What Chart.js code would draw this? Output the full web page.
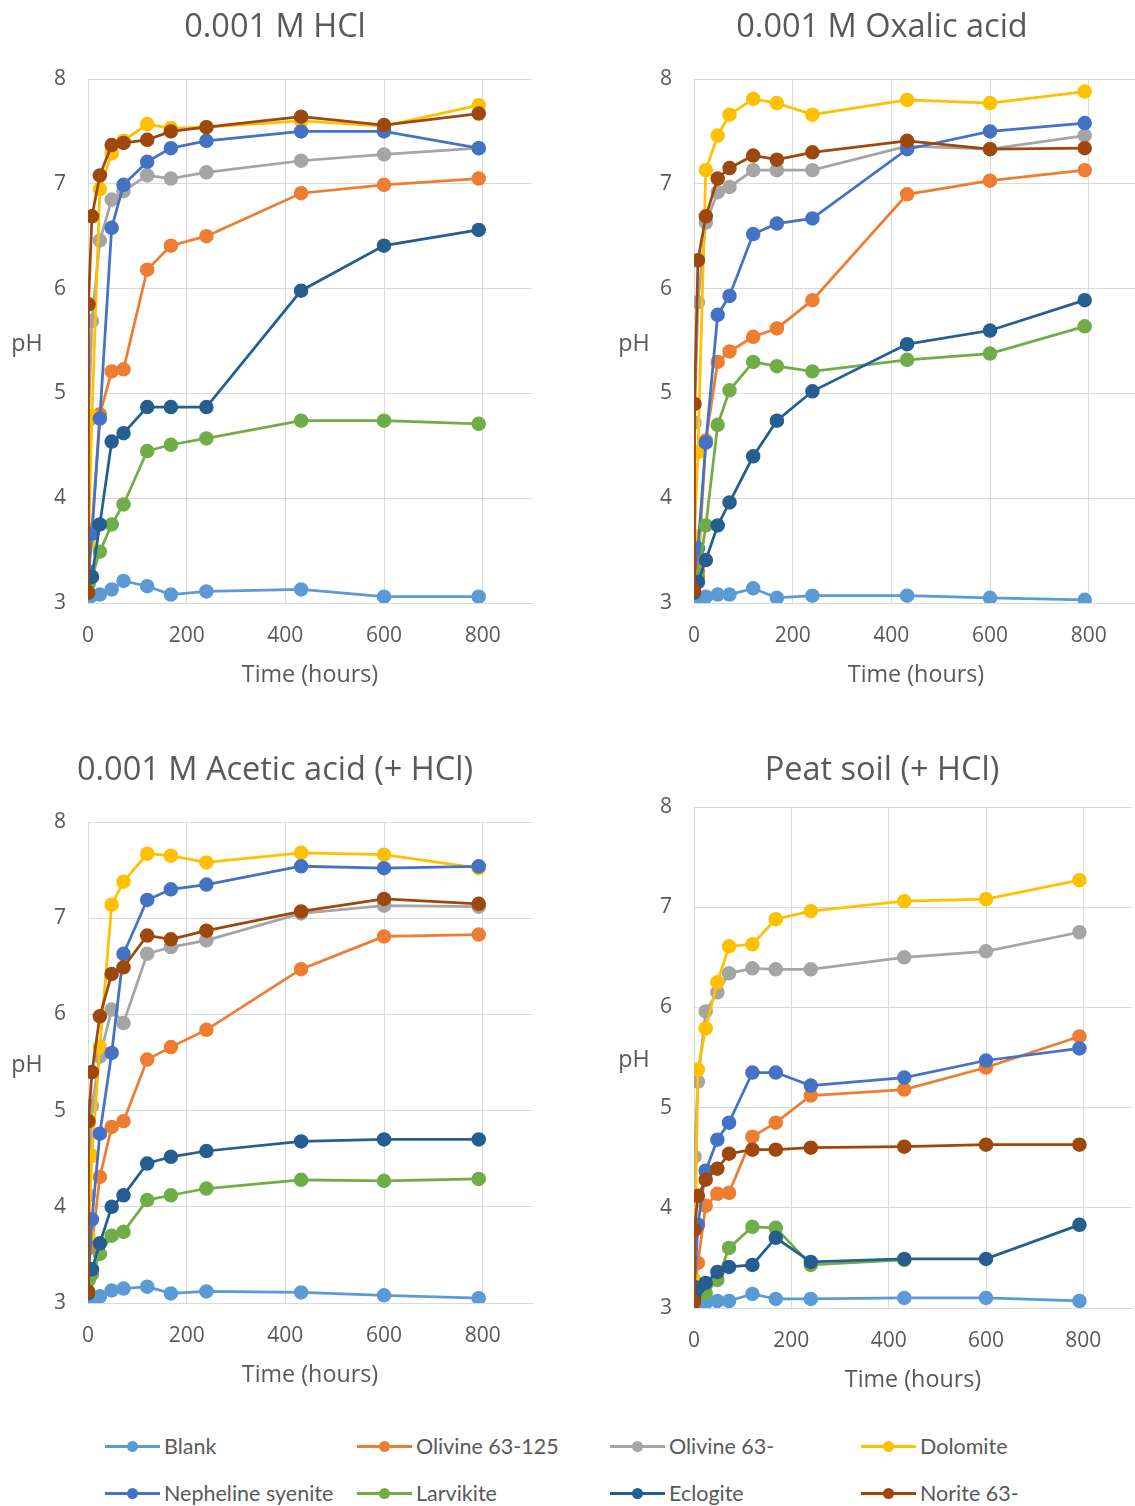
<!DOCTYPE html>
<html>
<head>
<meta charset="utf-8">
<title>pH over time</title>
<script src="https://cdn.jsdelivr.net/npm/chart.js@4.4.1/dist/chart.umd.min.js"></script>
<style>
  html, body { margin: 0; padding: 0; background: #fff; }
  body { position: relative; width: 1135px; height: 1506px; overflow: hidden; }
  canvas { position: absolute; }
  .lg-item { position: absolute; height: 30px; white-space: nowrap; }
  .lg-line { position: absolute; left: 0; top: 13.5px; width: 55px; height: 3px; }
  .lg-dot { position: absolute; left: 22px; top: 9.5px; width: 11px; height: 11px; border-radius: 50%; }
  .lg-text { position: absolute; left: 59px; top: 0; line-height: 30px; font-family: Lato, "Liberation Sans", sans-serif; font-size: 21.5px; color: #595959; }
</style>
</head>
<body>
<canvas id="chartHCl" width="550" height="689" style="left:0px;top:0px"></canvas>
<canvas id="chartOxalic" width="550" height="689" style="left:607px;top:0px"></canvas>
<canvas id="chartAcetic" width="550" height="646" style="left:0px;top:743px"></canvas>
<canvas id="chartPeat" width="550" height="651" style="left:607px;top:743px"></canvas>
<div id="legend"></div>

<script>
// Sampling times (hours)
const hours = [0, 1, 8, 24, 48, 72, 120, 168, 240, 432, 600, 792];

// Materials, in series order
const materials = ['Blank', 'Olivine 63-125', 'Olivine 63-', 'Dolomite',
                   'Nepheline syenite', 'Larvikite', 'Eclogite', 'Norite 63-'];
const colors = ['#5B9BD5', '#ED7D31', '#A5A5A5', '#FFC000',
                '#4472C4', '#70AD47', '#255E91', '#9E480E'];

// pH in 0.001 M HCl
const hclBlank      = [3.08, 3.07, 3.07, 3.08, 3.13, 3.21, 3.16, 3.08, 3.11, 3.13, 3.06, 3.06];
const hclOlivine125 = [3.10, 3.20, 3.70, 4.80, 5.21, 5.23, 6.18, 6.41, 6.50, 6.91, 6.99, 7.05];
const hclOlivine63  = [3.10, 4.74, 5.69, 6.46, 6.85, 6.93, 7.08, 7.05, 7.11, 7.22, 7.28, 7.34];
const hclDolomite   = [3.10, 3.57, 4.78, 6.95, 7.29, 7.41, 7.57, 7.53, 7.54, 7.60, 7.55, 7.75];
const hclNepheline  = [3.10, 3.30, 3.66, 4.76, 6.58, 6.99, 7.21, 7.34, 7.41, 7.50, 7.50, 7.34];
const hclLarvikite  = [3.10, 3.18, 3.25, 3.49, 3.75, 3.94, 4.45, 4.51, 4.57, 4.74, 4.74, 4.71];
const hclEclogite   = [3.10, 3.24, 3.25, 3.75, 4.54, 4.62, 4.87, 4.87, 4.87, 5.98, 6.41, 6.56];
const hclNorite     = [3.10, 5.85, 6.69, 7.08, 7.37, 7.39, 7.42, 7.50, 7.54, 7.64, 7.56, 7.67];

// pH in 0.001 M oxalic acid
const oxaBlank      = [3.06, 3.05, 3.05, 3.06, 3.08, 3.08, 3.14, 3.05, 3.07, 3.07, 3.05, 3.03];
const oxaOlivine125 = [3.10, 3.20, 3.30, 4.55, 5.30, 5.40, 5.54, 5.62, 5.89, 6.90, 7.03, 7.13];
const oxaOlivine63  = [3.10, 4.72, 5.87, 6.63, 6.92, 6.97, 7.13, 7.13, 7.13, 7.36, 7.33, 7.46];
const oxaDolomite   = [3.10, 3.64, 4.44, 7.13, 7.46, 7.66, 7.81, 7.77, 7.66, 7.80, 7.77, 7.88];
const oxaNepheline  = [3.10, 3.25, 3.52, 4.53, 5.75, 5.93, 6.52, 6.62, 6.67, 7.33, 7.50, 7.58];
const oxaLarvikite  = [3.10, 3.22, 3.25, 3.74, 4.70, 5.03, 5.30, 5.26, 5.21, 5.32, 5.38, 5.64];
const oxaEclogite   = [3.10, 3.20, 3.20, 3.41, 3.74, 3.96, 4.40, 4.74, 5.02, 5.47, 5.60, 5.89];
const oxaNorite     = [3.12, 4.90, 6.27, 6.69, 7.05, 7.15, 7.27, 7.23, 7.30, 7.41, 7.33, 7.34];

// pH in 0.001 M acetic acid (+ HCl)
const aceBlank      = [3.07, 3.05, 3.05, 3.07, 3.13, 3.15, 3.17, 3.10, 3.12, 3.11, 3.08, 3.05];
const aceOlivine125 = [3.10, 3.57, 3.60, 4.31, 4.83, 4.89, 5.53, 5.66, 5.84, 6.47, 6.81, 6.83];
const aceOlivine63  = [3.10, 4.12, 5.05, 5.56, 6.05, 5.91, 6.63, 6.70, 6.77, 7.05, 7.13, 7.12];
const aceDolomite   = [3.10, 3.70, 4.53, 5.66, 7.14, 7.38, 7.67, 7.65, 7.58, 7.68, 7.66, 7.52];
const aceNepheline  = [3.10, 3.24, 3.87, 4.76, 5.60, 6.63, 7.19, 7.30, 7.35, 7.54, 7.52, 7.54];
const aceLarvikite  = [3.10, 3.24, 3.30, 3.51, 3.70, 3.74, 4.07, 4.12, 4.19, 4.28, 4.27, 4.29];
const aceEclogite   = [3.10, 3.35, 3.35, 3.62, 4.00, 4.12, 4.45, 4.52, 4.58, 4.68, 4.70, 4.70];
const aceNorite     = [3.12, 4.89, 5.40, 5.98, 6.42, 6.49, 6.82, 6.78, 6.87, 7.07, 7.20, 7.15];

// pH in peat soil (+ HCl)
const peatBlank      = [3.05, 3.03, 3.05, 3.05, 3.07, 3.07, 3.14, 3.09, 3.09, 3.10, 3.10, 3.07];
const peatOlivine125 = [3.10, 3.15, 3.45, 4.02, 4.14, 4.15, 4.71, 4.85, 5.12, 5.18, 5.40, 5.71];
const peatOlivine63  = [3.10, 4.51, 5.26, 5.96, 6.15, 6.34, 6.39, 6.38, 6.38, 6.50, 6.56, 6.75];
const peatDolomite   = [3.10, 3.28, 5.38, 5.79, 6.25, 6.61, 6.63, 6.88, 6.96, 7.06, 7.08, 7.27];
const peatNepheline  = [3.10, 3.21, 3.83, 4.37, 4.68, 4.85, 5.35, 5.35, 5.22, 5.30, 5.47, 5.59];
const peatLarvikite  = [3.10, 3.12, 3.12, 3.15, 3.28, 3.60, 3.81, 3.80, 3.43, 3.48, null, null];
const peatEclogite   = [3.10, 3.15, 3.20, 3.25, 3.36, 3.41, 3.43, 3.70, 3.46, 3.49, 3.49, 3.83];
const peatNorite     = [3.06, 3.78, 4.12, 4.28, 4.39, 4.54, 4.58, 4.58, 4.60, 4.61, 4.63, 4.63];

const xTicks = [0, 200, 400, 600, 800];
const yTicks = [3, 4, 5, 6, 7, 8];

const TEXT = '#595959';
const GRID = '#D9D9D9';
const FONT = '"Open Sans", "Noto Sans", sans-serif';

// Horizontal "pH" label left of the plot, centred on the plot height
const sideLabel = {
  id: 'sideLabel',
  afterDraw(chart, args, opts) {
    const { ctx, chartArea } = chart;
    ctx.save();
    ctx.font = '23.3px ' + FONT;
    ctx.fillStyle = TEXT;
    ctx.textAlign = 'center';
    ctx.textBaseline = 'middle';
    ctx.fillText(opts.text, opts.x, (chartArea.top + chartArea.bottom) / 2 + 3);
    ctx.restore();
  }
};

function makeChart(id, title, series, lay) {
  const datasets = series.map((vals, i) => ({
    label: materials[i],
    data: vals.map((v, k) => ({ x: hours[k], y: v })),
    borderColor: colors[i],
    backgroundColor: colors[i],
    pointBackgroundColor: colors[i],
    pointBorderColor: colors[i],
    borderWidth: 2.75,
    pointRadius: 6.5,
    pointBorderWidth: 1.5,
    tension: 0,
    spanGaps: false,
    order: series.length - 1 - i
  }));

  return new Chart(document.getElementById(id), {
    type: 'line',
    data: { datasets },
    plugins: [sideLabel],
    options: {
      responsive: false,
      animation: false,
      devicePixelRatio: 1,
      layout: { padding: 0 },
      plugins: {
        legend: { display: false },
        tooltip: { enabled: false },
        title: {
          display: true,
          text: title,
          color: TEXT,
          font: { family: FONT, size: 32.5, weight: 'normal', lineHeight: 1.2 },
          padding: { top: 8.5, bottom: lay.titleGap }
        },
        sideLabel: { text: 'pH', x: 27 }
      },
      scales: {
        x: {
          type: 'linear',
          position: 'bottom',
          min: 0,
          max: 900,
          afterBuildTicks(s) { s.ticks = xTicks.map(v => ({ value: v })); },
          afterFit(s) { s.height = 86; },
          ticks: {
            color: TEXT,
            font: { family: FONT, size: 21 },
            padding: 20.4,
            maxRotation: 0,
            autoSkip: false
          },
          grid: { color: GRID, lineWidth: 1, drawTicks: false },
          border: { color: GRID, width: 1 },
          title: {
            display: true,
            text: 'Time (hours)',
            color: TEXT,
            font: { family: FONT, size: 23.3 },
            padding: { top: 0, bottom: 0 }
          }
        },
        y: {
          type: 'linear',
          position: 'left',
          min: 3,
          max: 8,
          afterBuildTicks(s) { s.ticks = yTicks.map(v => ({ value: v })); },
          afterFit(s) { s.width = lay.yWidth; },
          ticks: {
            color: TEXT,
            font: { family: FONT, size: 21 },
            padding: 22
          },
          grid: { color: GRID, lineWidth: 1, drawTicks: false },
          border: { color: GRID, width: 1 }
        },
        // empty strip on the right of the plot
        yRight: {
          type: 'linear',
          position: 'right',
          display: true,
          grid: { display: false, drawTicks: false },
          border: { display: false },
          ticks: { display: false },
          afterFit(s) { s.width = lay.rightGap; }
        }
      }
    }
  });
}

makeChart('chartHCl', '0.001 M HCl',
  [hclBlank, hclOlivine125, hclOlivine63, hclDolomite, hclNepheline, hclLarvikite, hclEclogite, hclNorite],
  { yWidth: 88, rightGap: 18, titleGap: 31.5 });

makeChart('chartOxalic', '0.001 M Oxalic acid',
  [oxaBlank, oxaOlivine125, oxaOlivine63, oxaDolomite, oxaNepheline, oxaLarvikite, oxaEclogite, oxaNorite],
  { yWidth: 87, rightGap: 19, titleGap: 31.5 });

makeChart('chartAcetic', '0.001 M Acetic acid (+ HCl)',
  [aceBlank, aceOlivine125, aceOlivine63, aceDolomite, aceNepheline, aceLarvikite, aceEclogite, aceNorite],
  { yWidth: 88, rightGap: 18, titleGap: 31.5 });

makeChart('chartPeat', 'Peat soil (+ HCl)',
  [peatBlank, peatOlivine125, peatOlivine63, peatDolomite, peatNepheline, peatLarvikite, peatEclogite, peatNorite],
  { yWidth: 87, rightGap: 25, titleGap: 16.5 });

// Shared legend: two rows of four entries
const legendCols = [105, 357, 610, 861];
const legendRows = [1446, 1493];
const legend = document.getElementById('legend');
materials.forEach((name, i) => {
  const item = document.createElement('div');
  item.className = 'lg-item';
  item.style.left = legendCols[i % 4] + 'px';
  item.style.top = (legendRows[Math.floor(i / 4)] - 15) + 'px';
  item.innerHTML =
    '<span class="lg-line" style="background:' + colors[i] + '"></span>' +
    '<span class="lg-dot" style="background:' + colors[i] + '"></span>' +
    '<span class="lg-text"></span>';
  item.querySelector('.lg-text').textContent = name;
  legend.appendChild(item);
});
</script>
</body>
</html>
